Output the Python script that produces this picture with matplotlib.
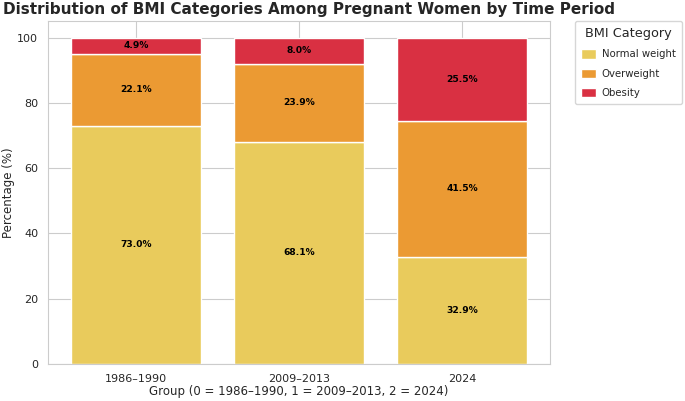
import matplotlib
matplotlib.use("Agg")
import matplotlib.pyplot as plt
import seaborn as sns
import numpy as np

groups = ["1986–1990", "2009–2013", "2024"]
categories = ["Normal weight", "Overweight", "Obesity"]
normal = [73.0, 68.1, 32.9]
overweight = [22.1, 23.9, 41.5]
obesity = [4.9, 8.0, 25.5]
colors = ["#E9CB5C", "#EB9A33", "#D93042"]

sns.set_style("whitegrid")
plt.rcParams['font.family'] = ['DejaVu Sans']

fig = plt.figure(figsize=(6.85, 4.01), dpi=100)
ax = fig.add_axes([0.070, 0.092, 0.733, 0.855])

x = np.arange(len(groups))
series = [normal, overweight, obesity]
bottom = np.zeros(len(groups))
for vals, cat, col in zip(series, categories, colors):
    vals = np.array(vals)
    ax.bar(x, vals, 0.8, bottom=bottom, color=col, edgecolor="white", linewidth=1, label=cat)
    for xi, b, v in zip(x, bottom, vals):
        ax.text(xi, b + v / 2, f"{v:.1f}%", ha="center", va="center", fontsize=6.6, fontweight="bold", color="black")
    bottom += vals

ax.set_xticks(x)
ax.set_xticklabels(groups, fontsize=8)
ax.tick_params(axis="y", labelsize=8)
ax.set_xlabel("Group (0 = 1986–1990, 1 = 2009–2013, 2 = 2024)", fontsize=8.5, labelpad=1)
ax.set_ylabel("Percentage (%)", fontsize=8.5, labelpad=1.5)
ax.set_title("Distribution of BMI Categories Among Pregnant Women by Time Period", fontsize=11, fontweight="bold", pad=5, x=0.52)
leg = ax.legend(title="BMI Category", bbox_to_anchor=(1.05, 1.0), loc="upper left", fontsize=7.3,
                title_fontsize=9.3, handlelength=1.5, handleheight=1.0, labelspacing=0.9,
                handletextpad=0.5, borderaxespad=0.0, borderpad=0.6)
for s in ax.spines.values():
    s.set_color("#cccccc")
ax.set_axisbelow(True)

fig.savefig("out.png", dpi=100)
